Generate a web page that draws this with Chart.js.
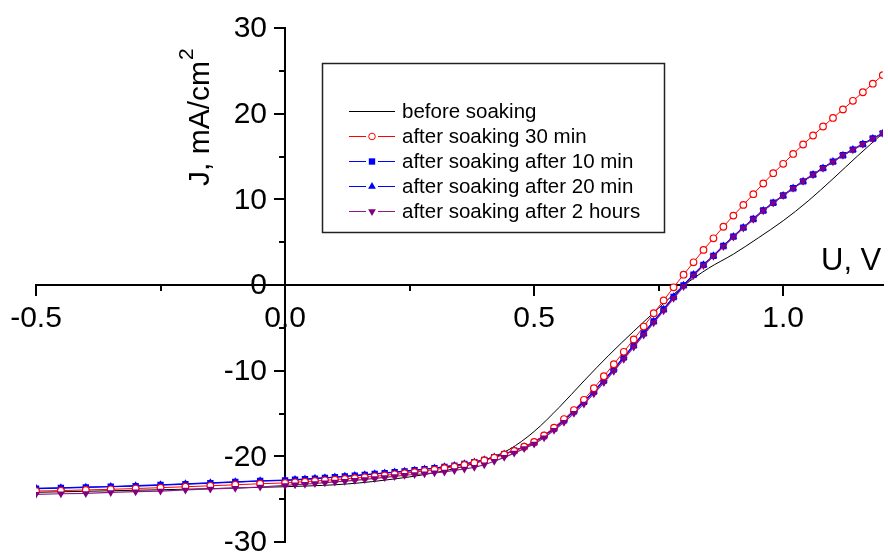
<!DOCTYPE html>
<html>
<head>
<meta charset="utf-8">
<script src="https://cdn.jsdelivr.net/npm/chart.js@4.4.1/dist/chart.umd.min.js"></script>
<style>
  html, body { margin: 0; padding: 0; background: #fff; overflow: hidden; }
  #wrap { width: 888px; height: 552px; }
</style>
</head>
<body>
<div id="wrap"><canvas id="myChart"></canvas></div>
<script>
// voltage grid of the measured curves (V)
var voltage = [-0.5, -0.45, -0.4, -0.35, -0.3, -0.25, -0.2, -0.15, -0.1, -0.05,
  0, 0.02, 0.04, 0.06, 0.08, 0.1, 0.12, 0.14, 0.16, 0.18, 0.2, 0.22, 0.24, 0.26, 0.28, 0.3,
  0.32, 0.34, 0.36, 0.38, 0.4, 0.42, 0.44, 0.46, 0.48, 0.5, 0.52, 0.54, 0.56, 0.58, 0.6,
  0.62, 0.64, 0.66, 0.68, 0.7, 0.72, 0.74, 0.76, 0.78, 0.8, 0.82, 0.84, 0.86, 0.88, 0.9,
  0.92, 0.94, 0.96, 0.98, 1, 1.02, 1.04, 1.06, 1.08, 1.1, 1.12, 1.14, 1.16, 1.18, 1.2]

// "before soaking" is a plain line, read at a coarser step
var voltageBefore = [-0.5, -0.45, -0.4, -0.35, -0.3, -0.25, -0.2, -0.15, -0.1, -0.05, 0,
  0.05, 0.1, 0.15, 0.2, 0.25, 0.3, 0.35, 0.4, 0.45, 0.5, 0.55, 0.6, 0.65, 0.7, 0.75, 0.8,
  0.85, 0.9, 0.95, 1, 1.05, 1.1, 1.15, 1.2]

var jBefore = [-24.20, -24.14, -24.08, -24.02, -23.96, -23.90, -23.84, -23.77, -23.70, -23.62, -23.55,
  -23.45, -23.32, -23.10, -22.78, -22.40, -21.92, -21.30, -20.45, -19.20, -17.10, -14.30, -11.20,
  -8.20, -5.40, -2.70, -0.10, 1.95, 3.60, 5.50, 7.50, 9.80, 12.40, 15.10, 17.70]

var j30min = [-24.05, -24.00, -23.92, -23.85, -23.76, -23.66, -23.55, -23.44, -23.32, -23.20,
  -23.10, -23.03, -22.96, -22.88, -22.80, -22.72, -22.63, -22.54, -22.44, -22.33, -22.22, -22.10,
  -21.97, -21.84, -21.70, -21.55, -21.38, -21.20, -21.00, -20.76, -20.48,
  -20.15, -19.78, -19.36, -18.88, -18.32, -17.55, -16.65, -15.65, -14.60, -13.40, -12.05, -10.65,
  -9.25, -7.80, -6.35, -4.85, -3.30, -1.80, -0.27, 1.20,
  2.65, 4.10, 5.45, 6.80, 8.10, 9.35, 10.60, 11.85, 13.05, 14.15, 15.30, 16.40, 17.45, 18.50,
  19.50, 20.50, 21.50, 22.50, 23.50, 24.50]

var j10min = [-23.78, -23.70, -23.63, -23.55, -23.47, -23.35, -23.24, -23.12, -23.00, -22.88,
  -22.80, -22.74, -22.68, -22.60, -22.52, -22.44, -22.35, -22.26, -22.16, -22.06, -21.96, -21.86,
  -21.75, -21.63, -21.51, -21.38, -21.24, -21.08, -20.90, -20.68, -20.42,
  -20.10, -19.75, -19.35, -18.90, -18.38, -17.62, -16.75, -15.80, -14.75, -13.65, -12.45, -11.15,
  -9.85, -8.45, -7.05, -5.65, -4.25, -2.85, -1.40, -0.05,
  1.20, 2.35, 3.40, 4.55, 5.65, 6.70, 7.70, 8.70, 9.60, 10.45, 11.30, 12.10, 12.90, 13.65,
  14.40, 15.15, 15.80, 16.45, 17.10, 17.70]

var j20min = [-23.74, -23.67, -23.60, -23.52, -23.43, -23.32, -23.21, -23.09, -22.97, -22.86,
  -22.77, -22.71, -22.65, -22.57, -22.50, -22.42, -22.33, -22.24, -22.14, -22.04, -21.94, -21.84,
  -21.73, -21.61, -21.49, -21.36, -21.22, -21.06, -20.88, -20.66, -20.40,
  -20.08, -19.73, -19.33, -18.88, -18.36, -17.60, -16.72, -15.77, -14.72, -13.62, -12.42, -11.12,
  -9.82, -8.42, -7.02, -5.62, -4.22, -2.82, -1.38, -0.03,
  1.22, 2.37, 3.42, 4.56, 5.66, 6.71, 7.71, 8.71, 9.61, 10.46, 11.31, 12.11, 12.91, 13.66,
  14.41, 15.16, 15.81, 16.46, 17.11, 17.72]

var j2hours = [-24.44, -24.37, -24.33, -24.21, -24.13, -24.05, -23.92, -23.80, -23.72, -23.58,
  -23.40, -23.32, -23.25, -23.17, -23.08, -22.99, -22.90, -22.80, -22.69, -22.58, -22.46, -22.34,
  -22.21, -22.12, -22.03, -21.93, -21.82, -21.65, -21.48, -21.28, -20.98,
  -20.58, -20.12, -19.62, -19.10, -18.55, -17.82, -16.96, -16.02, -14.98, -13.88, -12.68, -11.38,
  -10.06, -8.66, -7.25, -5.83, -4.42, -3.00, -1.55, -0.18,
  1.10, 2.28, 3.36, 4.48, 5.60, 6.66, 7.68, 8.66, 9.58, 10.44, 11.28, 12.10, 12.88, 13.64,
  14.40, 15.14, 15.80, 16.44, 17.08, 17.70]

var seriesLabels = ['before soaking', 'after soaking 30 min', 'after soaking after 10 min',
  'after soaking after 20 min', 'after soaking after 2 hours']

var xTicks = [-0.5, 0, 0.5, 1.0]
var xMinorTicks = [-0.25, 0.25, 0.75]
var yTicks = [-30, -20, -10, 0, 10, 20, 30]
var yMinorTicks = [-25, -15, -5, 5, 15, 25]

const FONT = "'Liberation Sans', Arial, sans-serif"

function pairs(xs, ys) {
  return xs.map(function (x, i) { return { x: x, y: ys[i] } })
}

// the centred axes should not eat any layout space
function noSpace(scale) {
  if (scale.isHorizontal()) scale.height = 0
  else scale.width = 0
  scale.paddingTop = 0
  scale.paddingBottom = 0
  scale.paddingLeft = 0
  scale.paddingRight = 0
}

// minor ticks, y tick labels, axis titles and the boxed legend
const extras = {
  id: 'extras',
  afterDraw(chart) {
    const ctx = chart.ctx
    const xs = chart.scales.x
    const ys = chart.scales.y
    const x0 = xs.getPixelForValue(0)
    const y0 = ys.getPixelForValue(0)

    ctx.save()
    ctx.strokeStyle = '#000'
    ctx.lineWidth = 2
    ctx.beginPath()
    for (const v of xMinorTicks) {
      const px = Math.round(xs.getPixelForValue(v))
      ctx.moveTo(px, y0)
      ctx.lineTo(px, y0 + 6)
    }
    for (const v of yMinorTicks) {
      const py = Math.round(ys.getPixelForValue(v))
      ctx.moveTo(x0, py)
      ctx.lineTo(x0 - 6, py)
    }
    ctx.stroke()

    // y tick labels (left of the centred axis)
    ctx.fillStyle = '#000'
    ctx.font = '30px ' + FONT
    ctx.textAlign = 'right'
    ctx.textBaseline = 'middle'
    for (const v of yTicks) {
      ctx.fillText(String(v), x0 - 18, ys.getPixelForValue(v) + 1)
    }

    // axis titles
    ctx.textAlign = 'left'
    ctx.textBaseline = 'alphabetic'
    ctx.font = '31px ' + FONT
    ctx.fillText('U, V', 821, 270)

    ctx.save()
    ctx.translate(209, 186)
    ctx.rotate(-Math.PI / 2)
    ctx.font = '30px ' + FONT
    ctx.fillText('J, mA/cm', 0, 0)
    const w = ctx.measureText('J, mA/cm').width
    ctx.font = '21px ' + FONT
    ctx.fillText('2', w + 1, -16)
    ctx.restore()

    // legend
    ctx.lineWidth = 1.5
    ctx.strokeStyle = '#222'
    ctx.strokeRect(322.5, 63.5, 342, 169)
    ctx.font = '20.5px ' + FONT
    ctx.textBaseline = 'middle'
    chart.data.datasets.forEach(function (ds, i) {
      const y = 111.5 + i * 25
      ctx.strokeStyle = ds.borderColor
      ctx.lineWidth = 1
      ctx.beginPath()
      ctx.moveTo(349, y)
      ctx.lineTo(395, y)
      ctx.stroke()
      if (ds.pointRadius > 0) {
        ctx.fillStyle = '#fff'
        ctx.fillRect(366, y - 6, 12, 12)
        ctx.fillStyle = ds.pointBackgroundColor
        ctx.strokeStyle = ds.pointBorderColor
        Chart.helpers.drawPoint(ctx, {
          pointStyle: ds.pointStyle,
          rotation: ds.pointRotation || 0,
          radius: ds.pointRadius,
          borderWidth: ds.pointBorderWidth
        }, 372, y)
      }
      ctx.fillStyle = '#000'
      ctx.fillText(ds.label, 402, y + 1)
    })
    ctx.restore()
  }
}

const ctx = document.getElementById('myChart')

new Chart(ctx, {
  type: 'line',
  data: {
    datasets: [{
      label: seriesLabels[0],
      data: pairs(voltageBefore, jBefore),
      borderColor: '#000',
      borderWidth: 1,
      pointRadius: 0,
      cubicInterpolationMode: 'monotone',
      order: 4
    }, {
      label: seriesLabels[1],
      data: pairs(voltage, j30min),
      borderColor: '#ff0000',
      borderWidth: 1,
      pointStyle: 'circle',
      pointRadius: 3.3,
      pointBorderWidth: 1.2,
      pointBorderColor: '#ff0000',
      pointBackgroundColor: '#fff',
      order: 1
    }, {
      label: seriesLabels[2],
      data: pairs(voltage, j10min),
      borderColor: '#0000ff',
      borderWidth: 1.2,
      pointStyle: 'rect',
      pointRadius: 4.5,
      pointBorderWidth: 0,
      pointBorderColor: '#0000ff',
      pointBackgroundColor: '#0000ff',
      order: 3
    }, {
      label: seriesLabels[3],
      data: pairs(voltage, j20min),
      borderColor: '#0000ff',
      borderWidth: 1.2,
      pointStyle: 'triangle',
      pointRadius: 4.5,
      pointBorderWidth: 0,
      pointBorderColor: '#0000ff',
      pointBackgroundColor: '#0000ff',
      order: 2
    }, {
      label: seriesLabels[4],
      data: pairs(voltage, j2hours),
      borderColor: '#8a1a8a',
      borderWidth: 1.2,
      pointStyle: 'triangle',
      pointRotation: 180,
      pointRadius: 4.5,
      pointBorderWidth: 0,
      pointBorderColor: '#800080',
      pointBackgroundColor: '#800080',
      order: 0
    }]
  },
  options: {
    responsive: true,
    maintainAspectRatio: false,
    animation: false,
    devicePixelRatio: 1,
    layout: { padding: { left: 36, right: 2, top: 28, bottom: 10 } },
    plugins: {
      legend: { display: false },
      tooltip: { enabled: false }
    },
    scales: {
      x: {
        type: 'linear',
        min: -0.5,
        max: 1.2,
        position: { y: 0 },
        afterFit: noSpace,
        afterBuildTicks: function (scale) {
          scale.ticks = xTicks.map(function (v) { return { value: v } })
        },
        border: { color: '#000', width: 2 },
        grid: { drawOnChartArea: false, color: '#000', lineWidth: 2, tickLength: 10 },
        ticks: {
          color: '#000',
          padding: 6,
          maxRotation: 0,
          font: { family: FONT, size: 30 },
          callback: function (v) { return v.toFixed(1) }
        }
      },
      y: {
        type: 'linear',
        min: -30,
        max: 30,
        position: { x: 0 },
        afterFit: noSpace,
        afterBuildTicks: function (scale) {
          scale.ticks = yTicks.map(function (v) { return { value: v } })
        },
        border: { color: '#000', width: 2 },
        grid: { drawOnChartArea: false, color: '#000', lineWidth: 2, tickLength: 10 },
        ticks: { display: false }
      }
    }
  },
  plugins: [extras]
})
</script>
</body>
</html>
